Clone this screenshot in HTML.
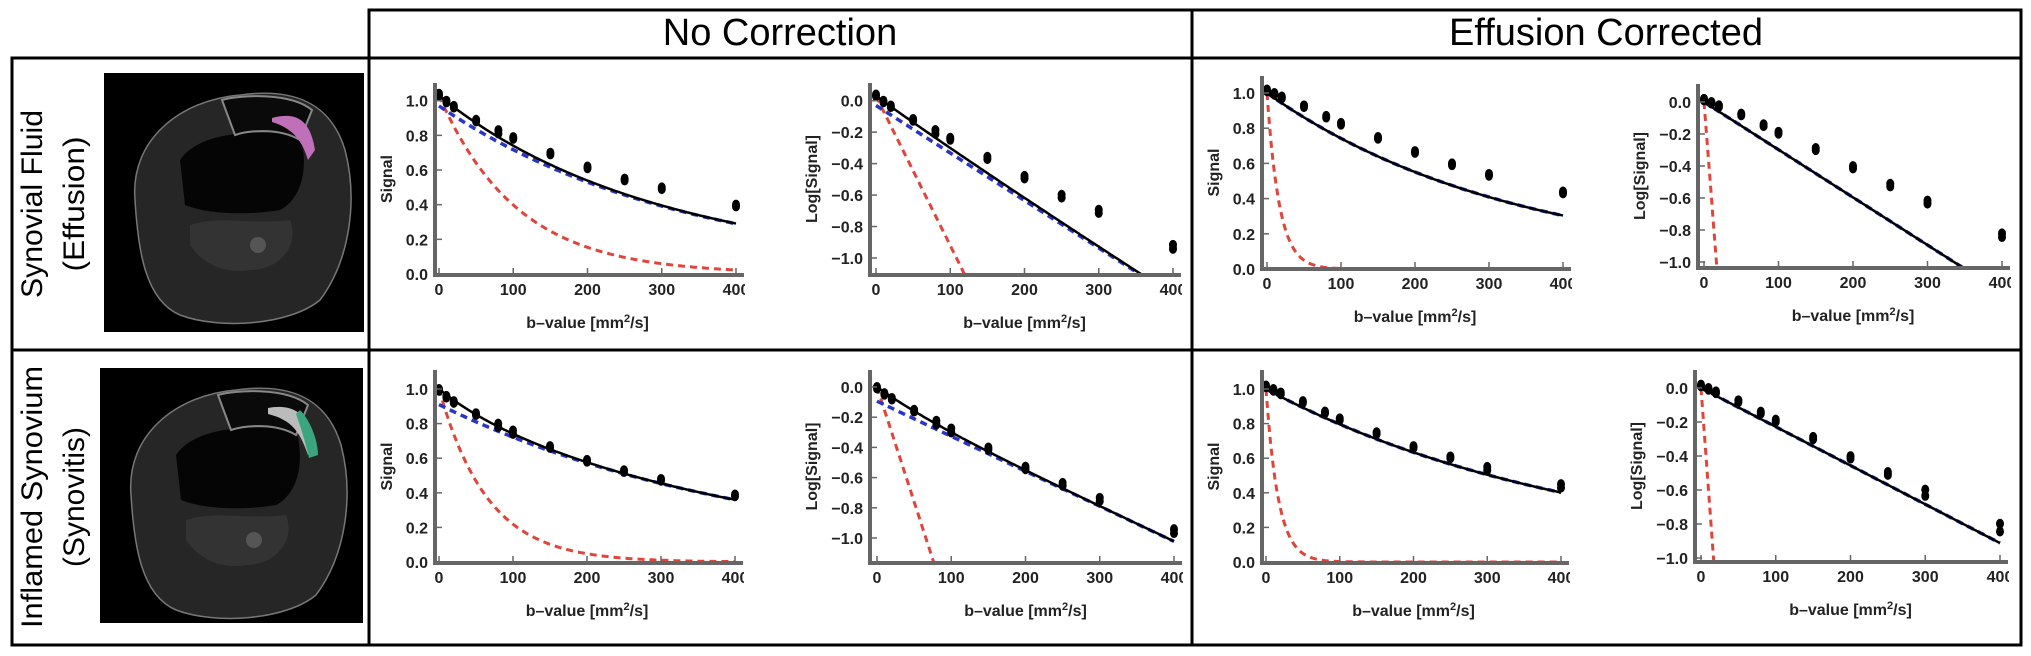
<!DOCTYPE html>
<html><head><meta charset="utf-8">
<style>
html,body{margin:0;padding:0;background:#fff;}
svg{display:block;}
.tk{font-family:"Liberation Sans",sans-serif;font-weight:bold;font-size:16px;fill:#222;}
.al{font-family:"Liberation Sans",sans-serif;font-weight:bold;font-size:16px;fill:#222;}
.hd{font-family:"Liberation Sans",sans-serif;font-size:38px;fill:#000;}
.rl{font-family:"Liberation Sans",sans-serif;font-size:30px;fill:#000;}
</style></head>
<body>
<svg id="root" width="2031" height="656" viewBox="0 0 2031 656" xmlns="http://www.w3.org/2000/svg">
  <g stroke="#000" stroke-width="3" fill="none">
    <rect x="369" y="10" width="1652" height="48"/>
    <line x1="1192" y1="10" x2="1192" y2="645"/>
    <rect x="12" y="58" width="2009" height="587"/>
    <line x1="369" y1="58" x2="369" y2="645"/>
    <line x1="12" y1="350" x2="2021" y2="350"/>
  </g>
  <text class="hd" x="780" y="45" text-anchor="middle">No Correction</text>
  <text class="hd" x="1606" y="45" text-anchor="middle">Effusion Corrected</text>

  <g>
    <text class="rl" transform="translate(42,204) rotate(-90)" text-anchor="middle" textLength="188" lengthAdjust="spacingAndGlyphs">Synovial Fluid</text>
    <text class="rl" transform="translate(84,204) rotate(-90)" text-anchor="middle" textLength="135" lengthAdjust="spacingAndGlyphs">(Effusion)</text>
  </g>
  <g>
    <text class="rl" transform="translate(42,497) rotate(-90)" text-anchor="middle" textLength="262" lengthAdjust="spacingAndGlyphs">Inflamed Synovium</text>
    <text class="rl" transform="translate(84,497) rotate(-90)" text-anchor="middle" textLength="140" lengthAdjust="spacingAndGlyphs">(Synovitis)</text>
  </g>

  <g>
    <rect x="104" y="73" width="260" height="259" fill="#000"/>
    <path d="M135,200 C130,140 180,100 240,95 C290,88 330,100 345,150 C358,200 350,260 320,300 C290,325 220,330 180,315 C145,300 138,250 135,200Z" fill="#262626" stroke="#777" stroke-width="1.5"/>
    <path d="M180,160 C200,130 260,130 300,135 C310,170 300,200 280,210 C250,215 210,215 185,205Z" fill="#050505"/>
    <path d="M222,100 C240,95 290,92 312,110 L300,140 C280,128 250,130 235,135Z" fill="#0a0a0a" stroke="#888" stroke-width="2"/>
    <path d="M272,118 C295,112 310,118 315,150 L308,160 C302,140 292,128 272,122Z" fill="#c070b8"/>
    <path d="M190,225 C220,215 250,225 290,220 C300,245 280,270 250,270 C220,275 200,260 190,245Z" fill="#333"/>
    <circle cx="258" cy="245" r="8" fill="#555"/>
  </g>
  <g>
    <rect x="100" y="368" width="263" height="255" fill="#000"/>
    <path d="M131,495 C126,435 176,395 236,390 C286,383 326,395 341,445 C354,495 346,555 316,595 C286,620 216,625 176,610 C141,595 134,545 131,495Z" fill="#262626" stroke="#777" stroke-width="1.5"/>
    <path d="M176,455 C196,425 256,425 296,430 C306,465 296,495 276,505 C246,510 206,510 181,500Z" fill="#050505"/>
    <path d="M218,395 C236,390 286,387 308,405 L296,435 C276,423 246,425 231,430Z" fill="#0a0a0a" stroke="#888" stroke-width="2"/>
    <path d="M268,408 C290,404 308,410 316,445 L308,455 C300,432 292,420 268,414Z" fill="#bbb"/>
    <path d="M300,410 C310,420 318,440 318,455 L309,458 C305,440 300,425 296,414Z" fill="#3aa57e"/>
    <path d="M186,520 C216,510 246,520 286,515 C296,540 276,565 246,565 C216,570 196,555 186,540Z" fill="#333"/>
    <circle cx="254" cy="540" r="8" fill="#555"/>
  </g>

  <g id="charts"></g>
</svg>

<script>
const bValues = [0, 10, 20, 50, 80, 100, 150, 200, 250, 300, 400];
const xTicks = [0, 100, 200, 300, 400];
const sigTicks = [0.0, 0.2, 0.4, 0.6, 0.8, 1.0];
const logTicks = [0.0, -0.2, -0.4, -0.6, -0.8, -1.0];

const effusionNoCorrRep1 = [1.04, 1.00, 0.97, 0.89, 0.83, 0.79, 0.70, 0.62, 0.55, 0.50, 0.40];
const effusionNoCorrRep2 = [1.03, 0.99, 0.96, 0.88, 0.81, 0.78, 0.69, 0.61, 0.54, 0.49, 0.39];
const effusionCorrRep1   = [1.02, 1.00, 0.98, 0.93, 0.87, 0.83, 0.75, 0.67, 0.60, 0.54, 0.44];
const effusionCorrRep2   = [1.01, 0.99, 0.97, 0.92, 0.86, 0.82, 0.74, 0.66, 0.59, 0.53, 0.43];
const synovNoCorrRep1    = [1.00, 0.96, 0.93, 0.86, 0.80, 0.76, 0.67, 0.59, 0.53, 0.48, 0.39];
const synovNoCorrRep2    = [0.99, 0.95, 0.92, 0.85, 0.78, 0.74, 0.66, 0.58, 0.52, 0.47, 0.38];
const synovCorrRep1      = [1.02, 1.00, 0.98, 0.93, 0.87, 0.83, 0.75, 0.67, 0.61, 0.55, 0.45];
const synovCorrRep2      = [1.01, 0.99, 0.97, 0.92, 0.86, 0.82, 0.74, 0.66, 0.60, 0.53, 0.43];

const effusionNoCorrAmps = [0.06, 0.97];
const effusionNoCorrRates = [0.0095, 0.00302];
const effusionCorrAmps = [0.0, 1.0];
const effusionCorrRates = [0.06, 0.00298];
const synovNoCorrAmps = [0.09, 0.91];
const synovNoCorrRates = [0.0152, 0.00232];
const synovCorrAmps = [0.0, 1.0];
const synovCorrRates = [0.06, 0.00228];

const charts = [
  {name:'effusion-no-correction-signal', log:false, rep1:effusionNoCorrRep1, rep2:effusionNoCorrRep2, amps:effusionNoCorrAmps, rates:effusionNoCorrRates, ax:435, x0:439, x4:736, yA:100.7, yB:274, top:83, axY:275},
  {name:'effusion-no-correction-log', log:true, rep1:effusionNoCorrRep1, rep2:effusionNoCorrRep2, amps:effusionNoCorrAmps, rates:effusionNoCorrRates, ax:870, x0:876, x4:1173, yA:100.7, yB:258, top:83, axY:275},
  {name:'effusion-corrected-signal', log:false, rep1:effusionCorrRep1, rep2:effusionCorrRep2, amps:effusionCorrAmps, rates:effusionCorrRates, ax:1262, x0:1267, x4:1563, yA:93, yB:269, top:76, axY:269},
  {name:'effusion-corrected-log', log:true, rep1:effusionCorrRep1, rep2:effusionCorrRep2, amps:effusionCorrAmps, rates:effusionCorrRates, ax:1698, x0:1704, x4:2002, yA:102, yB:262, top:84, axY:268},
  {name:'synovitis-no-correction-signal', log:false, rep1:synovNoCorrRep1, rep2:synovNoCorrRep2, amps:synovNoCorrAmps, rates:synovNoCorrRates, ax:435, x0:439, x4:735, yA:389, yB:562, top:370, axY:563},
  {name:'synovitis-no-correction-log', log:true, rep1:synovNoCorrRep1, rep2:synovNoCorrRep2, amps:synovNoCorrAmps, rates:synovNoCorrRates, ax:870, x0:877, x4:1174, yA:387, yB:538, top:370, axY:563},
  {name:'synovitis-corrected-signal', log:false, rep1:synovCorrRep1, rep2:synovCorrRep2, amps:synovCorrAmps, rates:synovCorrRates, ax:1262, x0:1266, x4:1561, yA:389, yB:562, top:370, axY:563},
  {name:'synovitis-corrected-log', log:true, rep1:synovCorrRep1, rep2:synovCorrRep2, amps:synovCorrAmps, rates:synovCorrRates, ax:1695, x0:1701, x4:2000, yA:388, yB:558, top:370, axY:562}
];

const NS = 'http://www.w3.org/2000/svg';
function mk(tag, attrs, parent){
  const e = document.createElementNS(NS, tag);
  for (const k in attrs) e.setAttribute(k, attrs[k]);
  parent.appendChild(e);
  return e;
}
const host = document.getElementById('charts');

charts.forEach((c, ci) => {
  const g = mk('g', {}, host);
  
  
  const vA = c.log ? 0 : 1, vB = c.log ? -1 : 0;
  const xs = b => c.x0 + (c.x4 - c.x0) * b / 400;
  const ys = v => c.yA + (c.yB - c.yA) * (vA - v) / (vA - vB);
  const tr = v => c.log ? Math.log(Math.max(v, 1e-9)) : v;

  const clipId = 'clip' + ci;
  const cp = mk('clipPath', {id: clipId}, g);
  mk('rect', {x: c.ax, y: c.top, width: c.x4 + 8 - c.ax, height: c.axY - c.top}, cp);

  const total0 = c.amps[0] + c.amps[1];
  const curves = [
    {n:'perfusion-fit-red', f: b => total0 * Math.exp(-c.rates[0] * b), stroke:'#e0453b', dash:'7,5', w:3},
    {n:'diffusion-fit-blue', f: b => c.amps[1] * Math.exp(-c.rates[1] * b), stroke:'#2a35c8', dash:'7,5', w:3.5},
    {n:'biexp-fit-black', f: b => c.amps[0] * Math.exp(-c.rates[0] * b) + c.amps[1] * Math.exp(-c.rates[1] * b), stroke:'#000', dash:'', w:2.5}
  ];
  curves.forEach(cv => {
    let d = '';
    for (let b = 0; b <= 400; b += 2) {
      const y = ys(tr(cv.f(b)));
      d += (b === 0 ? 'M' : 'L') + xs(b).toFixed(1) + ',' + Math.min(y, c.axY + 50).toFixed(1);
    }
    const p = mk('path', {d: d, fill:'none', stroke: cv.stroke, 'stroke-width': cv.w, 'stroke-dasharray': cv.dash, 'clip-path': 'url(#' + clipId + ')'}, g);
    
    
  });

  [c.rep1, c.rep2].forEach((rep) => {
    rep.forEach((v, i) => {
      const pt = mk('ellipse', {cx: xs(bValues[i]), cy: ys(tr(v)), rx: 4, ry: 5, fill:'#000'}, g);
      
      
    });
  });

  const ya = mk('line', {x1: c.ax, y1: c.top, x2: c.ax, y2: c.axY + 2, stroke:'#666', 'stroke-width': 4}, g);
  
  
  const xa = mk('line', {x1: c.ax - 2, y1: c.axY, x2: c.x4 + 8, y2: c.axY, stroke:'#666', 'stroke-width': 4}, g);
  
  

  const xcp = mk('clipPath', {id: 'xclip' + ci}, g);
  mk('rect', {x: c.ax - 30, y: c.axY, width: c.x4 + 9 - c.ax + 30, height: 40}, xcp);
  xTicks.forEach(t => {
    mk('line', {x1: xs(t), y1: c.axY - 2, x2: xs(t), y2: c.axY - 7, stroke:'#666', 'stroke-width': 1.5}, g);
    const lbl = mk('text', {x: xs(t), y: c.axY + 20, 'text-anchor':'middle', class:'tk', 'clip-path':'url(#xclip' + ci + ')'}, g);
    lbl.textContent = String(t);
    
    
  });

  (c.log ? logTicks : sigTicks).forEach(t => {
    mk('line', {x1: c.ax + 2, y1: ys(t), x2: c.ax + 7, y2: ys(t), stroke:'#666', 'stroke-width': 1.5}, g);
    const lbl = mk('text', {x: c.ax - 7, y: ys(t) + 6, 'text-anchor':'end', class:'tk'}, g);
    lbl.textContent = (t < 0 ? '\u2212' + Math.abs(t).toFixed(1) : t.toFixed(1));
    
    
  });

  const xt = mk('text', {x: (c.x0 + c.x4) / 2, y: c.axY + 53, 'text-anchor':'middle', class:'al'}, g);
  xt.innerHTML = 'b\u2013value [mm<tspan baseline-shift="super" font-size="11">2</tspan>/s]';
  
  
  const ymid = (c.top + c.axY) / 2;
  const yt = mk('text', {transform: 'translate(' + (c.ax - (c.log ? 53 : 43)) + ',' + ymid + ') rotate(-90)', 'text-anchor':'middle', class:'al'}, g);
  yt.textContent = c.log ? 'Log[Signal]' : 'Signal';
  
  
});
</script>
</body></html>
